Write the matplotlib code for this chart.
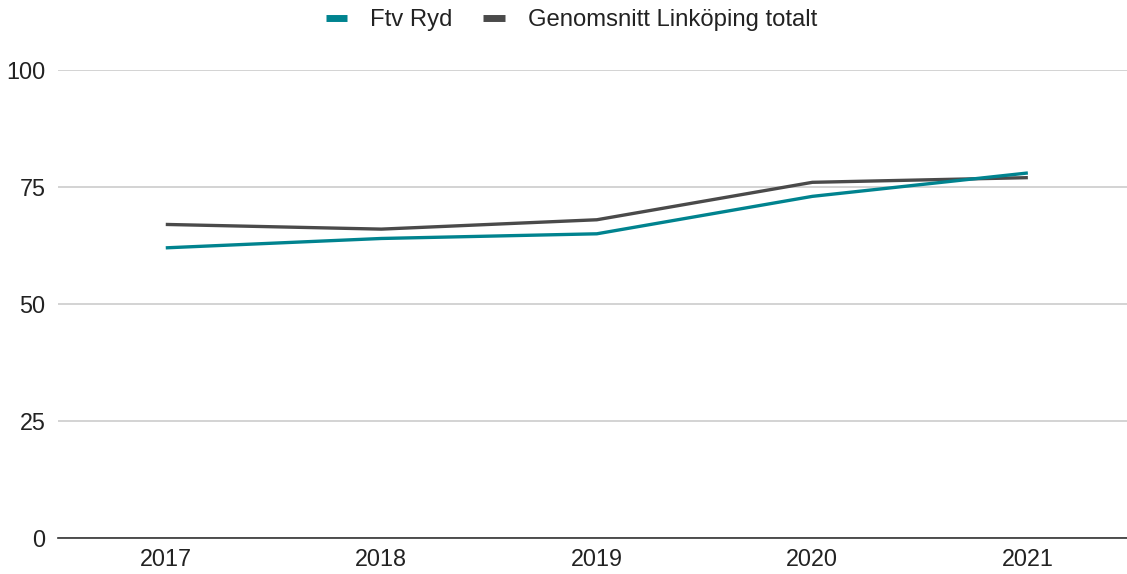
import matplotlib
matplotlib.use("Agg")
import matplotlib.pyplot as plt
from matplotlib.lines import Line2D

plt.rcParams['font.family'] = ['Liberation Sans', 'DejaVu Sans']

years = ["2017", "2018", "2019", "2020", "2021"]
ftv_ryd = [62, 64, 65, 73, 78]
linkoping = [67, 66, 68, 76, 77]
yticks = [0, 25, 50, 75, 100]

teal = "#00838f"
dark = "#4a4a4a"

fig = plt.figure(figsize=(11.27, 5.74), dpi=100)
ax = fig.add_axes([58 / 1127, 1 - 538 / 574, 1 - 58 / 1127, 468 / 574])

x = range(len(years))
ax.plot(x, ftv_ryd, color=teal, linewidth=2.4, solid_capstyle="butt", zorder=3)
ax.plot(x, linkoping, color=dark, linewidth=2.4, solid_capstyle="butt", zorder=2)

ax.set_xlim(-0.5, 4.46)
ax.set_ylim(0, 100)
ax.set_yticks(yticks)
ax.set_xticks(list(x))
ax.set_xticklabels(years)

ax.grid(axis="y", color="#cccccc", linewidth=1.2)
ax.set_axisbelow(True)
for s in ["top", "right", "left"]:
    ax.spines[s].set_visible(False)
ax.spines["bottom"].set_color("#333333")
ax.spines["bottom"].set_linewidth(1.2)
ax.tick_params(axis="both", length=0, labelsize=16.8, colors="#222222")
ax.tick_params(axis="y", pad=9)
ax.tick_params(axis="x", pad=7)

handles = [Line2D([], [], color=teal, linewidth=5, solid_capstyle="butt"),
           Line2D([], [], color=dark, linewidth=5, solid_capstyle="butt")]
fig.legend(handles, ["Ftv Ryd", "Genomsnitt Linköping totalt"],
           loc="center", bbox_to_anchor=(0.507, 1 - 20 / 574), ncol=2,
           frameon=False, fontsize=17.2, handlelength=0.9, handletextpad=0.95,
           columnspacing=1.3, labelcolor="#222222")

fig.savefig("out.png", dpi=100)
